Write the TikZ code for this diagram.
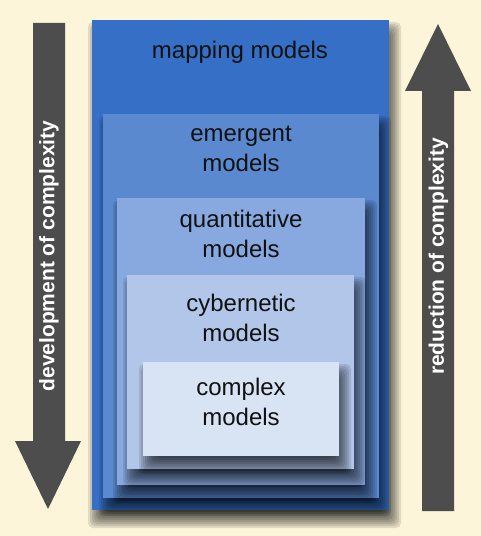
\documentclass[tikz,border=0pt]{standalone}
\usepackage{fontspec}
\newfontfamily\arialf{Liberation Sans}
\definecolor{bgc}{HTML}{FDF5DA}
\definecolor{bA}{HTML}{3670C6}
\definecolor{bB}{HTML}{5A89D0}
\definecolor{bC}{HTML}{88A9DF}
\definecolor{bD}{HTML}{B2C6E9}
\definecolor{bE}{HTML}{D8E3F4}
\definecolor{arr}{HTML}{4D4D4D}
\definecolor{txt}{HTML}{111111}
\tikzset{
  box/.style={anchor=north west, inner sep=0pt, draw=none},
  shlayer/.style={fill=black, opacity=0.11, draw=none, rounded corners=5bp},
  lbl/.style={anchor=base, inner sep=0pt, align=center, text=txt,
    font=\arialf\fontsize{24bp}{30bp}\selectfont},
  vlbl/.style={inner sep=0pt, text=white, rotate=90,
    font=\arialf\bfseries\fontsize{21bp}{25bp}\selectfont},
  arrowshape/.style={fill=arr, draw=none}
}
% #1 name, #2 x, #3 y, #4 w, #5 h, #6 colour
\newcommand\shbox[6]{%
  \foreach \r in {-8,-6,...,8}{%
    \fill[shlayer] ({#2+4-\r},{#3+10-\r}) rectangle ({#2+#4+4+\r},{#3+#5+10+\r});
  }
  \node[box, fill=#6, minimum width=#4bp, minimum height=#5bp] (#1) at (#2,#3) {};
}
\begin{document}
\begin{tikzpicture}[x=1bp,y=-1bp]
\fill[bgc] (0,0) rectangle (481,536);
\useasboundingbox (0,0) rectangle (481,536);
% arrows
\fill[arrowshape] (33,23) -- (65,23) -- (65,441) -- (81,441) -- (48,509) -- (15,441) -- (33,441) -- cycle;
\fill[arrowshape] (422,511) -- (454,511) -- (454,91) -- (471,91) -- (438,24) -- (405,91) -- (422,91) -- cycle;
\node[vlbl] (dev) at (49,256) {development of complexity};
\node[vlbl] (red) at (438.5,256.5) {reduction of complexity};
% boxes
\shbox{b1}{92}{20}{297}{490}{bA}
\shbox{b2}{103}{114}{276}{384}{bB}
\shbox{b3}{117}{198}{248}{287}{bC}
\shbox{b4}{127}{275}{227}{194}{bD}
\shbox{b5}{143}{362}{196}{94}{bE}
% labels
\node[lbl] (t1) at (240,59) {mapping models};
\node[lbl] (t2) at (241,172) {emergent\\models};
\node[lbl] (t3) at (241,257) {quantitative\\models};
\node[lbl] (t4) at (241,341) {cybernetic\\models};
\node[lbl] (t5) at (241,425) {complex\\models};
\end{tikzpicture}
\end{document}
